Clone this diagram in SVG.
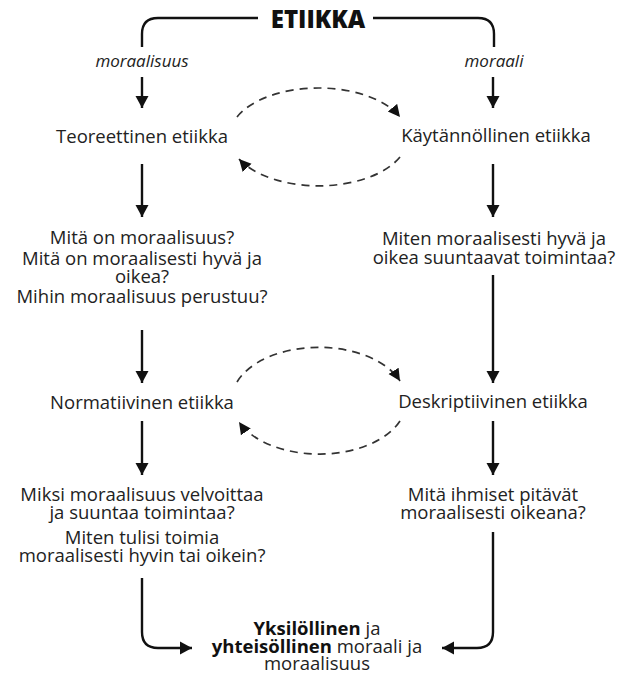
<svg xmlns="http://www.w3.org/2000/svg" width="618" height="675" viewBox="0 0 618 675">
<style>
text{font-family:"Open Sans","Noto Sans","DejaVu Sans",sans-serif;fill:#222;text-anchor:middle;font-size:18.5px}
.title{font-weight:800;font-size:24px;fill:#111}
.it{font-style:italic;font-size:17px}
.b{font-weight:700;fill:#111}
.solid{fill:none;stroke:#111;stroke-width:2.4}
.dash{fill:none;stroke:#333;stroke-width:1.7;stroke-dasharray:8 6}
</style>
<defs>
<marker id="ah" markerUnits="userSpaceOnUse" markerWidth="14" markerHeight="14" viewBox="0 0 14 14" refX="12" refY="7" orient="auto">
<path d="M0,0.5 L12,7 L0,13.5 Z" fill="#111"/>
</marker>
<marker id="ahd" markerUnits="userSpaceOnUse" markerWidth="14" markerHeight="14" viewBox="0 0 14 14" refX="12" refY="7" orient="auto">
<path d="M0,1 L12,7 L0,13 Z" fill="#111"/>
</marker>
</defs>
<g id="etiikka"><text class="title" x="318" y="28">ETIIKKA</text></g>
<g id="lbl-moraalisuus"><text class="it" x="142" y="67">moraalisuus</text></g>
<g id="lbl-moraali"><text class="it" x="494" y="67">moraali</text></g>
<g id="teoreettinen"><text x="142" y="143">Teoreettinen etiikka</text></g>
<g id="kaytannollinen"><text x="496" y="142">Käytännöllinen etiikka</text></g>
<g id="kysymykset1">
<text x="142" y="244">Mitä on moraalisuus?</text>
<text x="142" y="265">Mitä on moraalisesti hyvä ja</text>
<text x="142" y="283">oikea?</text>
<text x="142" y="303">Mihin moraalisuus perustuu?</text>
</g>
<g id="kysymykset2">
<text x="494" y="245">Miten moraalisesti hyvä ja</text>
<text x="494" y="264">oikea suuntaavat toimintaa?</text>
</g>
<g id="normatiivinen"><text x="142" y="409">Normatiivinen etiikka</text></g>
<g id="deskriptiivinen"><text x="493" y="408">Deskriptiivinen etiikka</text></g>
<g id="kysymykset3">
<text x="142" y="501">Miksi moraalisuus velvoittaa</text>
<text x="142" y="519">ja suuntaa toimintaa?</text>
<text x="142" y="544">Miten tulisi toimia</text>
<text x="142" y="562">moraalisesti hyvin tai oikein?</text>
</g>
<g id="kysymykset4">
<text x="493" y="501">Mitä ihmiset pitävät</text>
<text x="493" y="519">moraalisesti oikeana?</text>
</g>
<g id="lopputulos">
<text x="317" y="635"><tspan class="b">Yksilöllinen</tspan> ja</text>
<text x="317" y="653"><tspan class="b">yhteisöllinen</tspan> moraali ja</text>
<text x="317" y="670">moraalisuus</text>
</g>
<g id="connectors">
<path class="solid" d="M258,18 H158 Q142,18 142,34 V47"/>
<path class="solid" d="M373,18 H478 Q494,18 494,34 V47"/>
<path class="solid" d="M142,77 V108" marker-end="url(#ah)"/>
<path class="solid" d="M493,77 V108" marker-end="url(#ah)"/>
<path class="solid" d="M142,164 V217" marker-end="url(#ah)"/>
<path class="solid" d="M493,164 V217" marker-end="url(#ah)"/>
<path class="solid" d="M142,330 V383" marker-end="url(#ah)"/>
<path class="solid" d="M493,275 V383" marker-end="url(#ah)"/>
<path class="solid" d="M142,421 V475" marker-end="url(#ah)"/>
<path class="solid" d="M493,421 V475" marker-end="url(#ah)"/>
<path class="solid" d="M142,578 V632 Q142,648 158,648 H192" marker-end="url(#ah)"/>
<path class="solid" d="M493,532 V632 Q493,648 477,648 H442" marker-end="url(#ah)"/>
<path class="dash" d="M237,117 A89,48.5 0 0 1 400,117" marker-end="url(#ahd)"/>
<path class="dash" d="M400,157 A89,48.5 0 0 1 239,159" marker-end="url(#ahd)"/>
<path class="dash" d="M237,382 A87,52.5 0 0 1 400,381" marker-end="url(#ahd)"/>
<path class="dash" d="M400,421 A87,52.5 0 0 1 239,422" marker-end="url(#ahd)"/>
</g>
</svg>
